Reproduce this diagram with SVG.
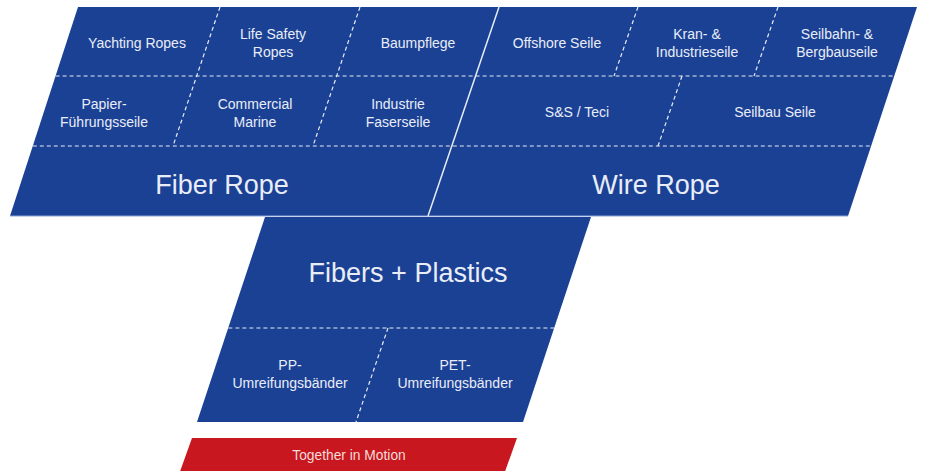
<svg xmlns="http://www.w3.org/2000/svg" width="926" height="471" viewBox="0 0 926 471">
<style>
.panel{fill:#1b4195}
.red{fill:#c8171e}
.dash{stroke:#e6ebf6;stroke-width:1.2;stroke-dasharray:4 3;fill:none}
.solid{stroke:#e6ebf6;stroke-width:1.5;fill:none}
.edge{stroke:#8ea5da;stroke-width:1;fill:none}
text{font-family:"Liberation Sans",Arial,sans-serif;fill:#e9edf7;text-anchor:middle}
.s{font-size:14px}
.b{font-size:27px}
.r{font-size:13.8px;fill:#f3dcdc}
</style>
<rect width="926" height="471" fill="#ffffff"/>
<g id="fiber-rope">
<polygon class="panel" points="78,7 499,7 428,216 10,216"/>
<text class="b" x="222" y="194">Fiber Rope</text>
</g>
<g id="wire-rope">
<polygon class="panel" points="499,7 917,7 848,216 428,216"/>
<text class="b" x="656" y="194">Wire Rope</text>
</g>
<g id="fibers-plastics">
<polygon class="panel" points="265,217 591,217 523,422 197,422"/>
<text class="b" x="408" y="282">Fibers + Plastics</text>
</g>
<g id="together">
<polygon class="red" points="192,438 517,438 502,480 177,480"/>
<text class="r" x="349" y="460">Together in Motion</text>
</g>
<g id="connectors">
<line class="edge" x1="10" y1="216" x2="848" y2="216"/>
<line class="solid" x1="499" y1="7" x2="428" y2="216"/>
<line class="dash" x1="55.6" y1="76" x2="894.2" y2="76"/>
<line class="dash" x1="32.8" y1="146" x2="871.1" y2="146"/>
<line class="dash" x1="220" y1="7" x2="173" y2="146"/>
<line class="dash" x1="360" y1="7" x2="313" y2="146"/>
<line class="dash" x1="638" y1="7" x2="614" y2="76"/>
<line class="dash" x1="778" y1="7" x2="754" y2="76"/>
<line class="dash" x1="682" y1="76" x2="658" y2="146"/>
<line class="dash" x1="228.4" y1="328" x2="554.4" y2="328"/>
<line class="dash" x1="388" y1="328" x2="356" y2="422"/>
</g>
<g id="yachting-ropes"><text class="s" x="137" y="48">Yachting Ropes</text></g>
<g id="life-safety-ropes"><text class="s" x="273" y="39">Life Safety</text><text class="s" x="273" y="57">Ropes</text></g>
<g id="baumpflege"><text class="s" x="418" y="48">Baumpflege</text></g>
<g id="papier"><text class="s" x="104" y="109">Papier-</text><text class="s" x="104" y="127">Führungsseile</text></g>
<g id="commercial-marine"><text class="s" x="255" y="109">Commercial</text><text class="s" x="255" y="127">Marine</text></g>
<g id="industrie-faserseile"><text class="s" x="398" y="109">Industrie</text><text class="s" x="398" y="127">Faserseile</text></g>
<g id="offshore-seile"><text class="s" x="557" y="48">Offshore Seile</text></g>
<g id="kran"><text class="s" x="697" y="39">Kran- &amp;</text><text class="s" x="697" y="57">Industrieseile</text></g>
<g id="seilbahn"><text class="s" x="837" y="39">Seilbahn- &amp;</text><text class="s" x="837" y="57">Bergbauseile</text></g>
<g id="ss-teci"><text class="s" x="577" y="117">S&amp;S / Teci</text></g>
<g id="seilbau-seile"><text class="s" x="775" y="117">Seilbau Seile</text></g>
<g id="pp"><text class="s" x="290" y="370">PP-</text><text class="s" x="290" y="388">Umreifungsbänder</text></g>
<g id="pet"><text class="s" x="455" y="370">PET-</text><text class="s" x="455" y="388">Umreifungsbänder</text></g>
</svg>
